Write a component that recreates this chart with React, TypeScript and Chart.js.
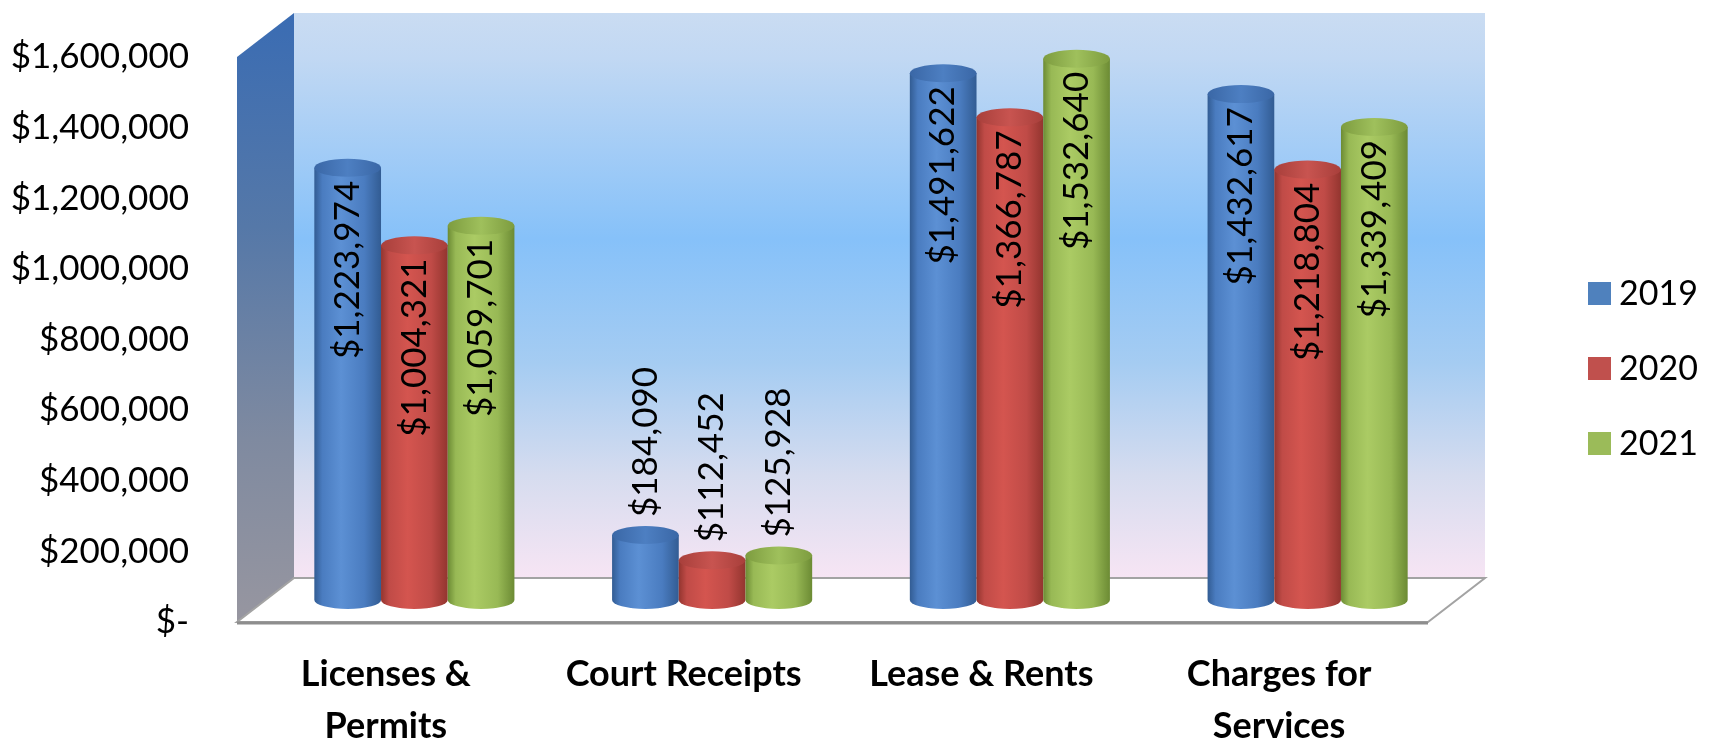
import React, { useEffect, useRef } from 'react';
import { Chart, registerables } from 'chart.js';

Chart.register(...registerables);

// ---------- data ----------
const categories: string[][] = [
  ['Licenses &', 'Permits'],
  ['Court Receipts'],
  ['Lease & Rents'],
  ['Charges for', 'Services'],
];
const seriesNames = ['2019', '2020', '2021'];
const values2019 = [1223974, 184090, 1491622, 1432617];
const values2020 = [1004321, 112452, 1366787, 1218804];
const values2021 = [1059701, 125928, 1532640, 1339409];
const yMin = 0;
const yMax = 1600000;
const yStep = 200000;

// ---------- styles ----------
const seriesColors = ['#4F81BD', '#C0504D', '#9BBB59'];
const shades = [
  { dark: '#325c93', light: '#5c90d4', mid: '#4a7cc0', top: ['#3a67a6', '#4d7fc2'] },
  { dark: '#93352f', light: '#d4554f', mid: '#c04b47', top: ['#a83f3b', '#c85450'] },
  { dark: '#6c8b34', light: '#abcb64', mid: '#98b955', top: ['#7d9c3f', '#9fc05c'] },
];
const FONT = 'Lato, "Open Sans", sans-serif';
const DEPTH_X = 57;
const DEPTH_Y = -44;
const BAR_DEPTH = 0.5;
const CAP_RY = 9;

const fmt = (v: number) => (v === 0 ? '$-' : '$' + Math.round(v).toLocaleString('en-US'));

const wallsPlugin = {
  id: 'walls3d',
  beforeDraw(chart: any) {
    const { ctx, chartArea } = chart;
    const { left: L, right: R, top: T, bottom: B } = chartArea;
    ctx.save();
    // back wall
    const g = ctx.createLinearGradient(0, T + DEPTH_Y, 0, B + DEPTH_Y);
    g.addColorStop(0, '#cadcf2');
    g.addColorStop(0.08, '#c1d8f3');
    g.addColorStop(0.4, '#86c1f9');
    g.addColorStop(0.62, '#a5ccf2');
    g.addColorStop(0.82, '#d6dcef');
    g.addColorStop(1, '#f7e5f4');
    ctx.fillStyle = g;
    ctx.fillRect(L + DEPTH_X, T + DEPTH_Y, R - L, B - T);
    // left wall
    const lg = ctx.createLinearGradient(0, T + DEPTH_Y, 0, B);
    lg.addColorStop(0, '#3a6cb3');
    lg.addColorStop(0.35, '#5578a8');
    lg.addColorStop(0.7, '#7f8aa0');
    lg.addColorStop(1, '#9796a0');
    ctx.fillStyle = lg;
    ctx.beginPath();
    ctx.moveTo(L, T);
    ctx.lineTo(L + DEPTH_X, T + DEPTH_Y);
    ctx.lineTo(L + DEPTH_X, B + DEPTH_Y);
    ctx.lineTo(L, B);
    ctx.closePath();
    ctx.fill();
    // floor
    ctx.beginPath();
    ctx.moveTo(L, B);
    ctx.lineTo(R, B);
    ctx.lineTo(R + DEPTH_X, B + DEPTH_Y);
    ctx.lineTo(L + DEPTH_X, B + DEPTH_Y);
    ctx.closePath();
    ctx.fillStyle = '#ffffff';
    ctx.fill();
    ctx.strokeStyle = '#a3a3a3';
    ctx.lineWidth = 2;
    ctx.stroke();
    ctx.beginPath();
    ctx.moveTo(L, B + 1);
    ctx.lineTo(R, B + 1);
    ctx.strokeStyle = '#8e8e8e';
    ctx.lineWidth = 3;
    ctx.stroke();
    ctx.restore();
  },
};

const cylindersPlugin = {
  id: 'cylinders',
  beforeDatasetsDraw(chart: any) {
    const { ctx } = chart;
    const sx = DEPTH_X * BAR_DEPTH;
    const sy = DEPTH_Y * BAR_DEPTH;
    const bars: any[] = [];
    chart.data.datasets.forEach((ds: any, di: number) => {
      const meta = chart.getDatasetMeta(di);
      if (meta.hidden) return;
      meta.data.forEach((el: any, i: number) => {
        const p = el.getProps(['x', 'y', 'base', 'width'], true);
        bars.push({ di, i, x: p.x + sx, top: p.y + sy, base: p.base + sy, w: p.width, v: ds.data[i] });
      });
    });
    bars.sort((a, b) => a.i - b.i || a.di - b.di);
    ctx.save();
    for (const b of bars) {
      const s = shades[b.di];
      const rx = b.w / 2;
      const l = b.x - rx;
      const r = b.x + rx;
      const g = ctx.createLinearGradient(l, 0, r, 0);
      g.addColorStop(0, s.dark);
      g.addColorStop(0.12, s.mid);
      g.addColorStop(0.4, s.light);
      g.addColorStop(0.75, s.mid);
      g.addColorStop(1, s.dark);
      ctx.beginPath();
      ctx.moveTo(l, b.top);
      ctx.lineTo(l, b.base);
      ctx.ellipse(b.x, b.base, rx, CAP_RY, 0, Math.PI, 0, true);
      ctx.lineTo(r, b.top);
      ctx.closePath();
      ctx.fillStyle = g;
      ctx.fill();
      const tg = ctx.createLinearGradient(l, 0, r, 0);
      tg.addColorStop(0, s.top[0]);
      tg.addColorStop(0.5, s.top[1]);
      tg.addColorStop(1, s.top[0]);
      ctx.beginPath();
      ctx.ellipse(b.x, b.top, rx, CAP_RY, 0, 0, Math.PI * 2);
      ctx.fillStyle = tg;
      ctx.fill();
    }
    // data labels
    ctx.font = `35px ${FONT}`;
    ctx.fillStyle = '#000';
    ctx.textBaseline = 'middle';
    for (const b of bars) {
      const text = fmt(b.v);
      const tw = ctx.measureText(text).width;
      const len = b.base - b.top;
      ctx.save();
      if (len > tw + 40) {
        ctx.translate(b.x, b.top + 13);
        ctx.rotate(-Math.PI / 2);
        ctx.textAlign = 'right';
      } else {
        ctx.translate(b.x, b.top - 18);
        ctx.rotate(-Math.PI / 2);
        ctx.textAlign = 'left';
      }
      ctx.fillText(text, 0, 0);
      ctx.restore();
    }
    ctx.restore();
    return false;
  },
};

const legendPlugin = {
  id: 'sideLegend',
  afterDraw(chart: any) {
    const { ctx, chartArea } = chart;
    const box = 23;
    const x = chartArea.right + 160;
    const rowGap = 75;
    const n = chart.data.datasets.length;
    const cy = chart.height / 2 - 4;
    ctx.save();
    ctx.font = `34px ${FONT}`;
    ctx.textBaseline = 'middle';
    ctx.textAlign = 'left';
    chart.data.datasets.forEach((ds: any, i: number) => {
      const y = cy + (i - (n - 1) / 2) * rowGap;
      ctx.fillStyle = ds.backgroundColor;
      ctx.fillRect(x, y - box / 2, box, box);
      ctx.fillStyle = '#000';
      ctx.fillText(ds.label, x + box + 8, y + 1);
    });
    ctx.restore();
  },
};

export default function App() {
  const ref = useRef<HTMLCanvasElement>(null);
  useEffect(() => {
    const seriesValues = [values2019, values2020, values2021];
    const chart = new Chart(ref.current as HTMLCanvasElement, {
      type: 'bar',
      data: {
        labels: categories as any,
        datasets: seriesNames.map((name, i) => ({
          label: name,
          data: seriesValues[i],
          backgroundColor: seriesColors[i],
          categoryPercentage: 0.672,
          barPercentage: 1,
        })),
      },
      options: {
        animation: false,
        responsive: true,
        maintainAspectRatio: false,
        layout: { padding: { top: 57, right: 293, bottom: 0, left: 0 } },
        plugins: { legend: { display: false }, tooltip: { enabled: false } },
        scales: {
          x: {
            grid: { display: false, drawTicks: false },
            border: { display: false },
            ticks: {
              color: '#000',
              font: { family: FONT, size: 36, weight: 'bold', lineHeight: 1.43 },
              padding: 27,
              autoSkip: false,
              maxRotation: 0,
            },
            afterFit: (s: any) => {
              s.height = 123;
              s.paddingLeft = 0;
              s.paddingRight = 0;
            },
          },
          y: {
            min: yMin,
            max: yMax,
            grid: { display: false, drawTicks: false },
            border: { display: false },
            ticks: {
              stepSize: yStep,
              color: '#000',
              font: { family: FONT, size: 35 },
              padding: 48,
              callback: (v: any) => fmt(Number(v)),
            },
            afterFit: (s: any) => {
              s.width = 237;
              s.paddingTop = 0;
              s.paddingBottom = 0;
            },
          },
        },
      } as any,
      plugins: [wallsPlugin, cylindersPlugin, legendPlugin] as any,
    });
    return () => chart.destroy();
  }, []);
  return (
    <div style={{ position: 'fixed', left: 0, top: 0, width: '100vw', height: '100vh', background: '#fff' }}>
      <canvas ref={ref} />
    </div>
  );
}
